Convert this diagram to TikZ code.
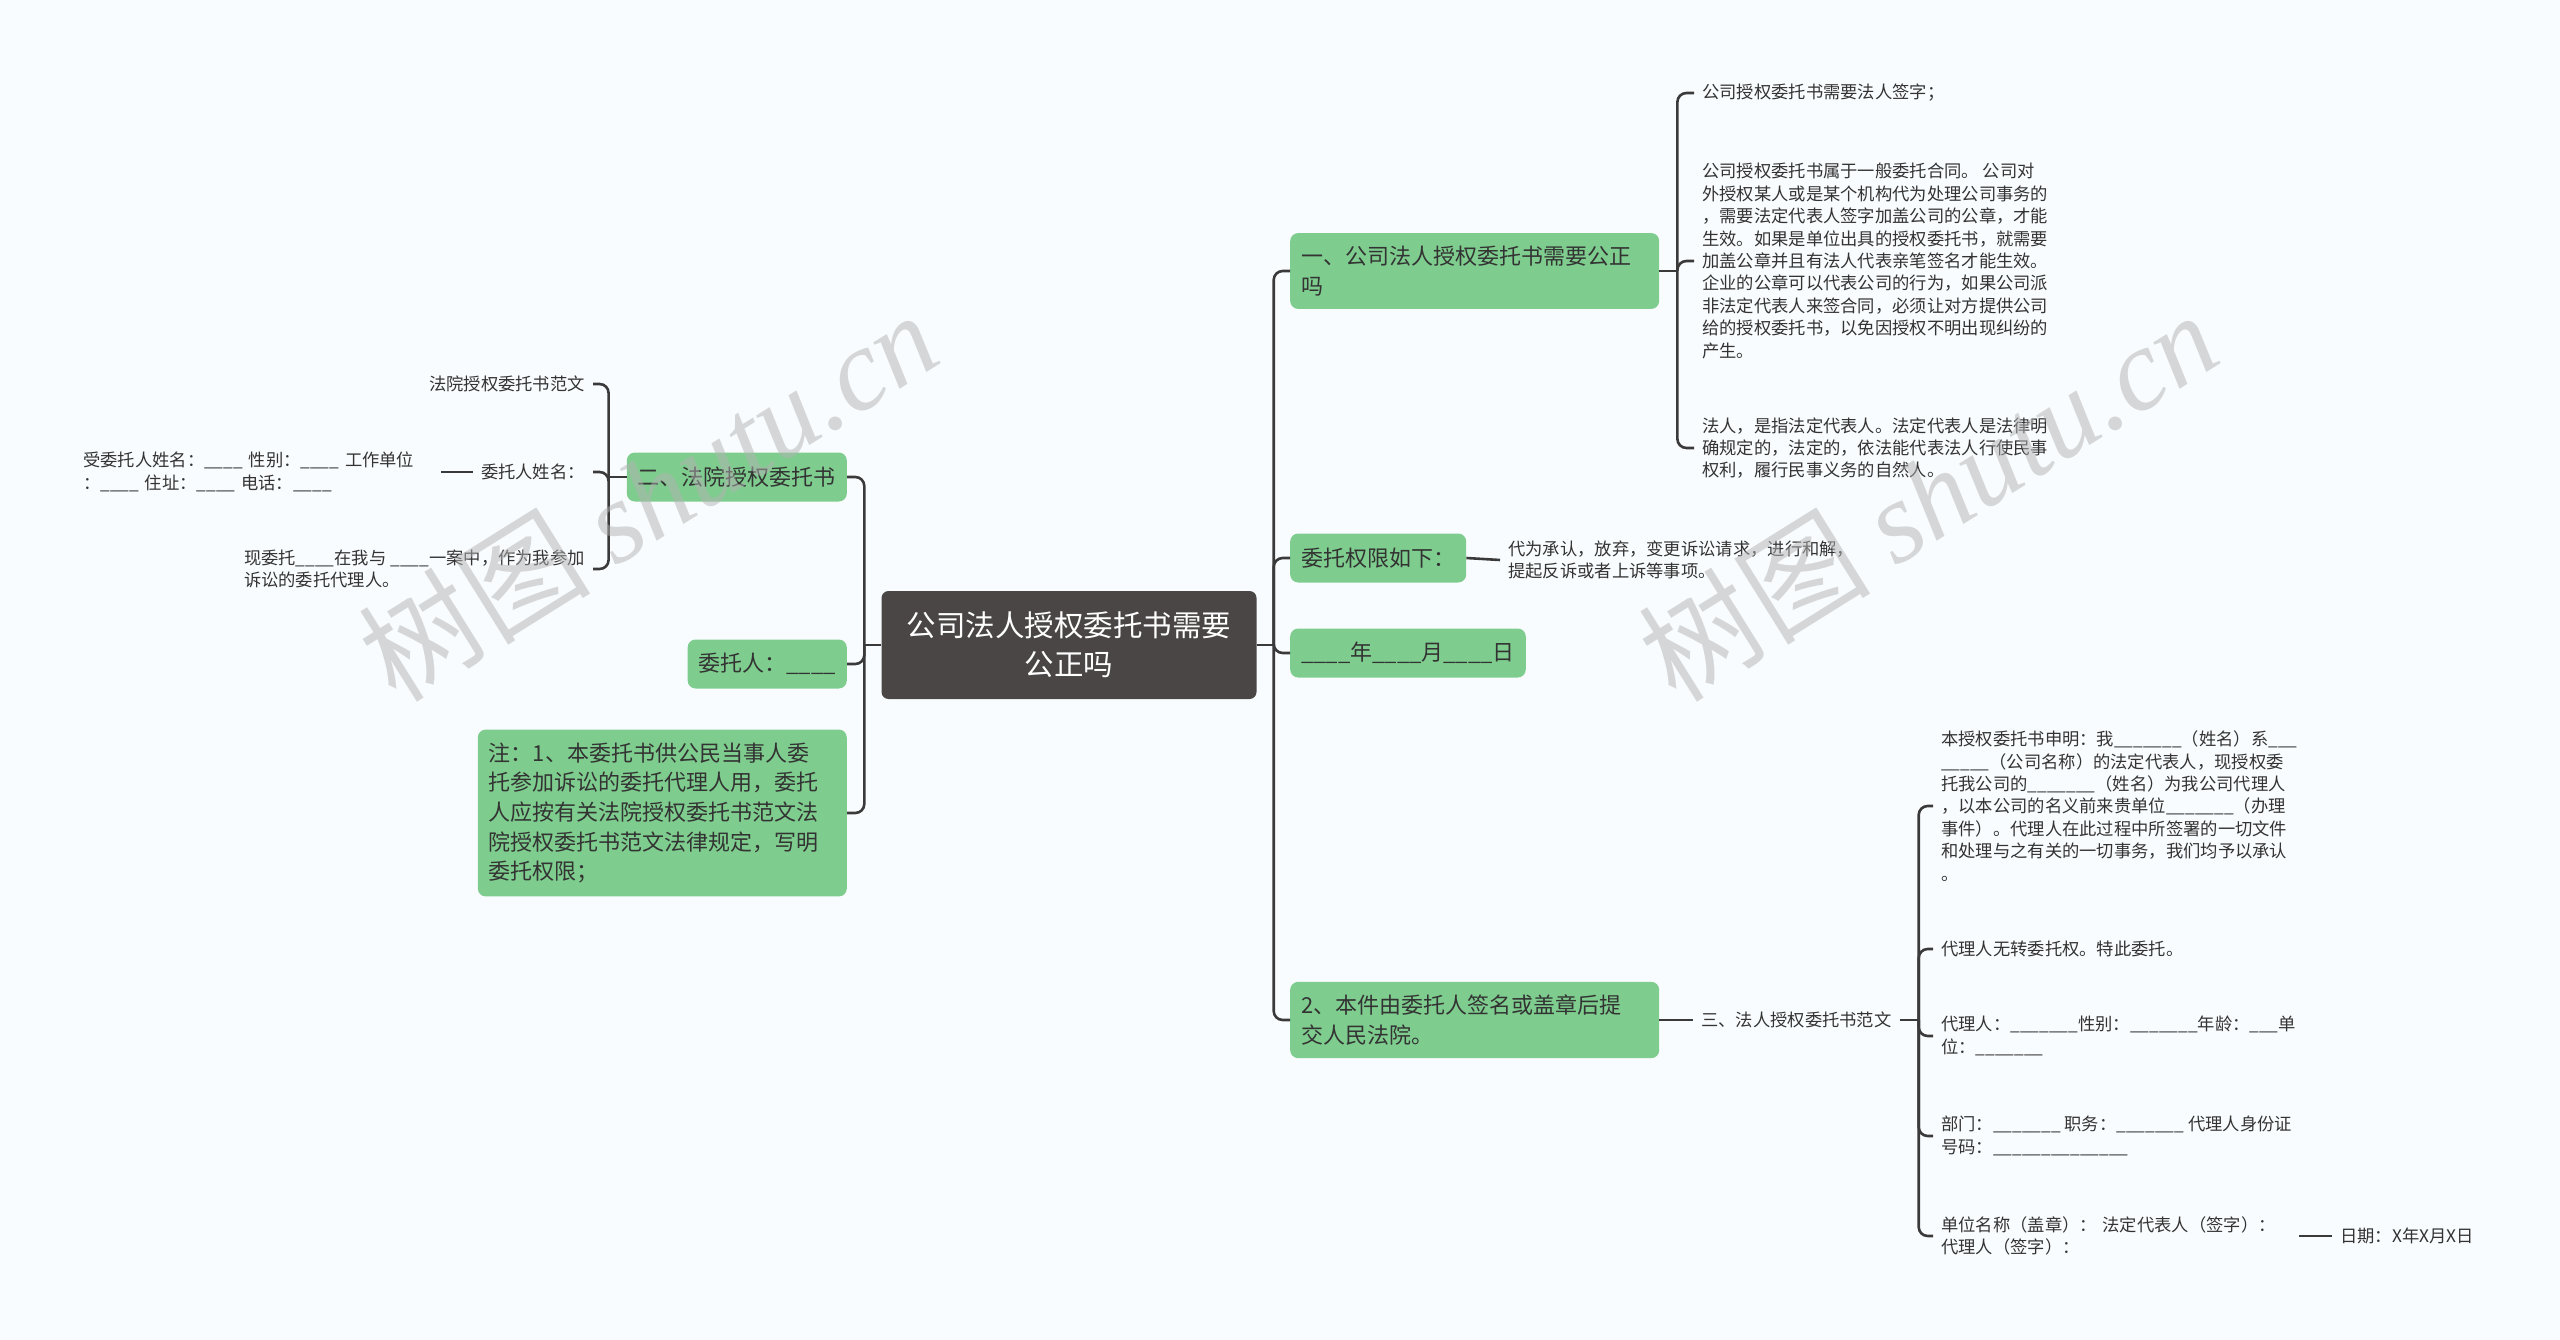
\documentclass[tikz,border=0pt]{standalone}
\usepackage{fontspec}
\setmainfont{Noto Sans CJK SC}
\newfontfamily\wmserif{Liberation Serif}
\definecolor{bgcol}{HTML}{F9FCFE}
\definecolor{boxgreen}{HTML}{7ECD8E}
\definecolor{rootgray}{HTML}{4A4646}
\definecolor{linkgray}{HTML}{3A3A3A}
\definecolor{txt}{HTML}{333333}
\tikzset{
  rootbox/.style={fill=rootgray, rounded corners=7pt, text=white, align=center,
    minimum width=375pt, minimum height=108pt, font=\fontsize{29.5}{39}\selectfont},
  topic/.style={fill=boxgreen, rounded corners=8pt, inner xsep=11pt, inner ysep=13pt,
    minimum height=49pt, text=txt, align=left, font=\fontsize{22}{29.7}\selectfont},
  leaf/.style={inner xsep=8pt, inner ysep=2pt, text=txt, align=left,
    font=\fontsize{17.3}{22.4}\selectfont},
  link/.style={draw=linkgray, line width=2.6pt, rounded corners=9pt},
  wmark/.style={text=gray!60, opacity=.5, rotate=32, font=\fontsize{116}{116}\selectfont}
}
\begin{document}
\begin{tikzpicture}[x=1pt,y=-1pt]
\useasboundingbox (0,0) rectangle (2560,1340);
\fill[bgcol] (0,0) rectangle (2560,1340);
% centre
\node[rootbox] (root) at (1069,645) {公司法人授权委托书需要\\公正吗};
% right side
\node[topic, anchor=west, text width=347pt] (yi) at (1290,271) {一、公司法人授权委托书需要公正\\吗};
\node[topic, anchor=west] (quanxian) at (1290,558) {委托权限如下：};
\node[topic, anchor=west] (riqi) at (1290,653) {\_\_\_\_年\_\_\_\_月\_\_\_\_日};
\node[topic, anchor=west, text width=347pt] (jiao) at (1290,1020) {2、本件由委托人签名或盖章后提\\交人民法院。};
% left side
\node[topic, anchor=east] (fayuan) at (847,477) {二、法院授权委托书};
\node[topic, anchor=east] (weituoren) at (847,664) {委托人：\_\_\_\_};
\node[topic, anchor=east, text width=347pt] (zhu) at (847,813) {注：1、本委托书供公民当事人委\\托参加诉讼的委托代理人用，委托\\人应按有关法院授权委托书范文法\\院授权委托书范文法律规定，写明\\委托权限；};
\coordinate (jr) at ([xshift=17pt]root.east);
\coordinate (jl) at ([xshift=-17pt]root.west);
\draw[link] (root.east) -- (jr);
\draw[link] (root.west) -- (jl);
\foreach \n in {yi,quanxian,riqi,jiao} \draw[link] (jr) |- (\n.west);
\foreach \n in {fayuan,weituoren,zhu} \draw[link] (jl) |- (\n.east);

% branch yi
\node[leaf, anchor=west] (qianzi) at (1694,93) {公司授权委托书需要法人签字；};
\node[leaf, anchor=west] (hetong) at (1694,261) {公司授权委托书属于一般委托合同。 公司对\\外授权某人或是某个机构代为处理公司事务的\\，需要法定代表人签字加盖公司的公章，才能\\生效。如果是单位出具的授权委托书，就需要\\加盖公章并且有法人代表亲笔签名才能生效。\\企业的公章可以代表公司的行为，如果公司派\\非法定代表人来签合同，必须让对方提供公司\\给的授权委托书，以免因授权不明出现纠纷的\\产生。};
\node[leaf, anchor=west] (faren) at (1694,448) {法人，是指法定代表人。法定代表人是法律明\\确规定的，法定的，依法能代表法人行使民事\\权利，履行民事义务的自然人。};
\coordinate (jyi) at ([xshift=18pt]yi.east);
\draw[link] (yi.east) -- (jyi);
\foreach \n in {qianzi,hetong,faren} \draw[link] (jyi) |- (\n.west);

% branch quanxian
\node[leaf, anchor=west] (shixiang) at (1500,560) {代为承认，放弃，变更诉讼请求，进行和解，\\提起反诉或者上诉等事项。};
\draw[link] (quanxian.east) -- (shixiang.west);

% branch jiao
\node[leaf, anchor=west] (fanwen) at (1693,1020) {三、法人授权委托书范文};
\draw[link] (jiao.east) -- (fanwen.west);
\node[leaf, anchor=west] (shengming) at (1933,806) {本授权委托书申明：我\_\_\_\_\_\_\_（姓名）系\_\_\_\\\_\_\_\_\_（公司名称）的法定代表人，现授权委\\托我公司的\_\_\_\_\_\_\_（姓名）为我公司代理人\\，以本公司的名义前来贵单位\_\_\_\_\_\_\_（办理\\事件）。代理人在此过程中所签署的一切文件\\和处理与之有关的一切事务，我们均予以承认\\。};
\node[leaf, anchor=west] (wuzhuan) at (1933,949) {代理人无转委托权。特此委托。};
\node[leaf, anchor=west] (dailiren) at (1933,1036) {代理人：\_\_\_\_\_\_\_性别：\_\_\_\_\_\_\_年龄：\_\_\_单\\位：\_\_\_\_\_\_\_};
\node[leaf, anchor=west] (bumen) at (1933,1136) {部门：\_\_\_\_\_\_\_ 职务：\_\_\_\_\_\_\_ 代理人身份证\\号码：\_\_\_\_\_\_\_\_\_\_\_\_\_\_};
\node[leaf, anchor=west, text width=350pt] (danwei) at (1933,1236) {单位名称（盖章）： 法定代表人（签字）：\\代理人（签字）：};
\coordinate (jfw) at ([xshift=19pt]fanwen.east);
\draw[link] (fanwen.east) -- (jfw);
\foreach \n in {shengming,wuzhuan,dailiren,bumen,danwei} \draw[link] (jfw) |- (\n.west);
\node[leaf, anchor=west] (riqi2) at (2332,1236) {日期：X年X月X日};
\draw[link] (danwei.east) -- (riqi2.west);

% branch fayuan
\node[leaf, anchor=east] (fanwen2) at (593,384) {法院授权委托书范文};
\node[leaf, anchor=east] (xingming) at (593,472) {委托人姓名：};
\node[leaf, anchor=east] (xianweituo) at (593,569) {现委托\_\_\_\_在我与 \_\_\_\_一案中，作为我参加\\诉讼的委托代理人。};
\coordinate (jfy) at ([xshift=-18pt]fayuan.west);
\draw[link] (fayuan.west) -- (jfy);
\foreach \n in {fanwen2,xingming,xianweituo} \draw[link] (jfy) |- (\n.east);
\node[leaf, anchor=west, text width=350pt] (shouweituo) at (75,472) {受委托人姓名：\_\_\_\_ 性别：\_\_\_\_ 工作单位\\：\_\_\_\_ 住址：\_\_\_\_ 电话：\_\_\_\_};
\draw[link] (shouweituo.east) -- (xingming.west);

% watermark
\node[wmark] (wm1) at (648,495) {树图 {\wmserif\itshape shutu.cn}};
\node[wmark] (wm2) at (1928,495) {树图 {\wmserif\itshape shutu.cn}};
\end{tikzpicture}
\end{document}
